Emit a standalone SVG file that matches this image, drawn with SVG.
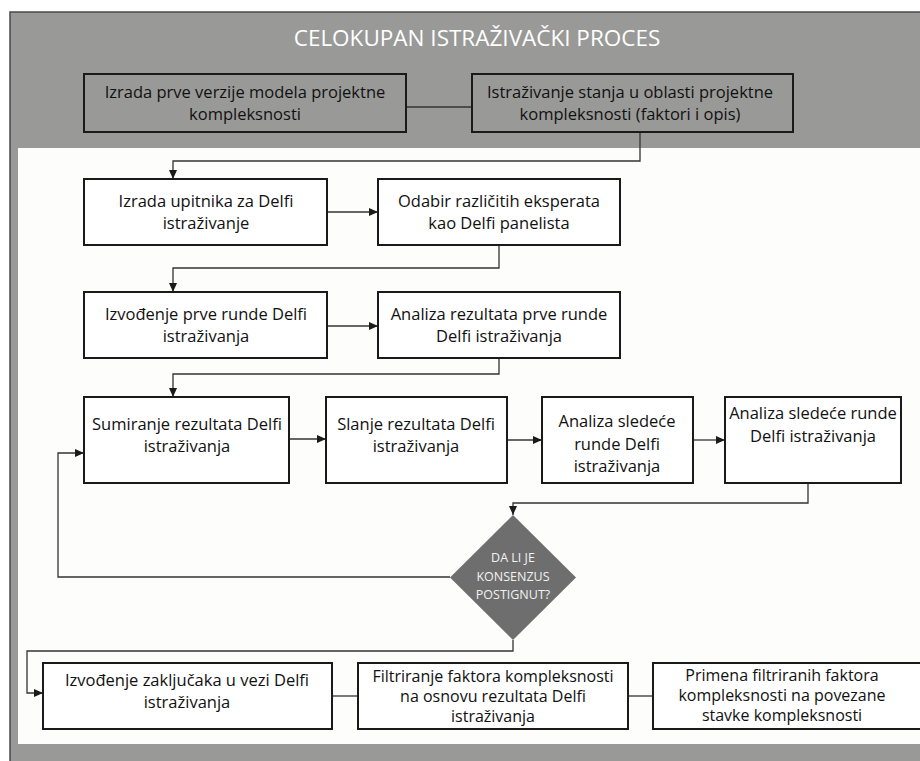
<svg xmlns="http://www.w3.org/2000/svg" width="920" height="761" viewBox="0 0 920 761">
  <style>
    .box { fill: #ffffff; stroke: #1a1a1a; stroke-width: 2; }
    .gbox { fill: #999a98; stroke: #1a1a1a; stroke-width: 2; }
    .lbl { font-family: "Open Sans", "Noto Sans", sans-serif; font-size: 16.5px; fill: #111111; text-anchor: middle; }
    .sm { font-size: 16px; }
    .dlbl { font-family: "Open Sans", "Noto Sans", sans-serif; font-size: 12.5px; fill: #f2f2f2; text-anchor: middle; }
    .title { font-family: "Open Sans", "Noto Sans", sans-serif; font-size: 22.5px; fill: #ffffff; text-anchor: middle; }
    .conn { fill: none; stroke: #333333; stroke-width: 1.3; }
    .arr { marker-end: url(#head); }
  </style>
  <defs>
    <marker id="head" markerUnits="userSpaceOnUse" markerWidth="10" markerHeight="8" refX="9" refY="4" orient="auto">
      <path d="M0,0 L9,4 L0,8 Z" fill="#1a1a1a"/>
    </marker>
  </defs>

  <!-- page background -->
  <rect x="0" y="0" width="920" height="761" fill="#ffffff"/>

  <!-- outer frame with grey band and white working area -->
  <g id="frame">
    <rect x="10" y="12" width="930" height="760" fill="#999a98" stroke="#4a4a4a" stroke-width="1.5"/>
    <rect x="18" y="148" width="920" height="596" fill="#fdfdfb"/>
    <text class="title" x="477" y="46">CELOKUPAN ISTRAŽIVAČKI PROCES</text>
  </g>

  <!-- connectors -->
  <g id="connectors">
    <path class="conn" d="M406,107 H472"/>
    <path class="conn arr" d="M640,132 V161 H173 V179"/>
    <path class="conn arr" d="M327,212 H378"/>
    <path class="conn arr" d="M499,245 V268 H173 V292"/>
    <path class="conn arr" d="M327,326 H378"/>
    <path class="conn arr" d="M499,358 V374 H173 V397"/>
    <path class="conn arr" d="M289,439 H326"/>
    <path class="conn arr" d="M507,440 H542"/>
    <path class="conn arr" d="M693,440 H725"/>
    <path class="conn arr" d="M808,483 V503 H513 V515"/>
    <path class="conn arr" d="M450,577 H58 V453 H84"/>
    <path class="conn arr" d="M513,640 V651 H27 V693 H43"/>
    <path class="conn" d="M332,696 H358"/>
    <path class="conn" d="M628,696 H653"/>
  </g>

  <g id="n1">
    <rect class="gbox" x="84" y="74" width="322" height="58"/>
    <text class="lbl" x="245" y="98">Izrada prve verzije modela projektne</text>
    <text class="lbl" x="245" y="120">kompleksnosti</text>
  </g>
  <g id="n2">
    <rect class="gbox" x="472" y="74" width="321" height="58"/>
    <text class="lbl" x="630" y="98">Istraživanje stanja u oblasti projektne</text>
    <text class="lbl" x="630" y="120">kompleksnosti (faktori i opis)</text>
  </g>

  <g id="n3">
    <rect class="box" x="84" y="179" width="243" height="66"/>
    <text class="lbl" x="206" y="207">Izrada upitnika za Delfi</text>
    <text class="lbl" x="206" y="229">istraživanje</text>
  </g>
  <g id="n4">
    <rect class="box" x="378" y="179" width="242" height="66"/>
    <text class="lbl" x="499" y="207">Odabir različitih eksperata</text>
    <text class="lbl" x="499" y="229">kao Delfi panelista</text>
  </g>

  <g id="n5">
    <rect class="box" x="84" y="292" width="243" height="66"/>
    <text class="lbl" x="206" y="320">Izvođenje prve runde Delfi</text>
    <text class="lbl" x="206" y="342">istraživanja</text>
  </g>
  <g id="n6">
    <rect class="box" x="378" y="292" width="242" height="66"/>
    <text class="lbl" x="499" y="320">Analiza rezultata prve runde</text>
    <text class="lbl" x="499" y="342">Delfi istraživanja</text>
  </g>

  <g id="n7">
    <rect class="box" x="84" y="397" width="205" height="86"/>
    <text class="lbl" x="187" y="430">Sumiranje rezultata Delfi</text>
    <text class="lbl" x="187" y="452">istraživanja</text>
  </g>
  <g id="n8">
    <rect class="box" x="326" y="397" width="181" height="86"/>
    <text class="lbl" x="416" y="430">Slanje rezultata Delfi</text>
    <text class="lbl" x="416" y="452">istraživanja</text>
  </g>
  <g id="n9">
    <rect class="box" x="542" y="397" width="151" height="86"/>
    <text class="lbl" x="617" y="427">Analiza sledeće</text>
    <text class="lbl" x="617" y="450">runde Delfi</text>
    <text class="lbl" x="617" y="472">istraživanja</text>
  </g>
  <g id="n10">
    <rect class="box" x="725" y="397" width="176" height="86"/>
    <text class="lbl" x="813" y="419">Analiza sledeće runde</text>
    <text class="lbl" x="813" y="442">Delfi istraživanja</text>
  </g>

  <g id="decision">
    <polygon points="513,515 576,577.5 513,640 450,577.5" fill="#6e6e6e"/>
    <text class="dlbl" x="513" y="562">DA LI JE</text>
    <text class="dlbl" x="513" y="581">KONSENZUS</text>
    <text class="dlbl" x="513" y="599">POSTIGNUT?</text>
  </g>

  <g id="n11">
    <rect class="box" x="43" y="663" width="289" height="66"/>
    <text class="lbl" x="187" y="686">Izvođenje zaključaka u vezi Delfi</text>
    <text class="lbl" x="187" y="708">istraživanja</text>
  </g>
  <g id="n12">
    <rect class="box" x="358" y="663" width="270" height="66"/>
    <text class="lbl sm" x="493" y="682">Filtriranje faktora kompleksnosti</text>
    <text class="lbl sm" x="493" y="702">na osnovu rezultata Delfi</text>
    <text class="lbl sm" x="493" y="722">istraživanja</text>
  </g>
  <g id="n13">
    <rect class="box" x="653" y="663" width="272" height="66"/>
    <text class="lbl sm" x="782" y="681">Primena filtriranih faktora</text>
    <text class="lbl sm" x="782" y="701">kompleksnosti na povezane</text>
    <text class="lbl sm" x="782" y="721">stavke kompleksnosti</text>
  </g>
</svg>
